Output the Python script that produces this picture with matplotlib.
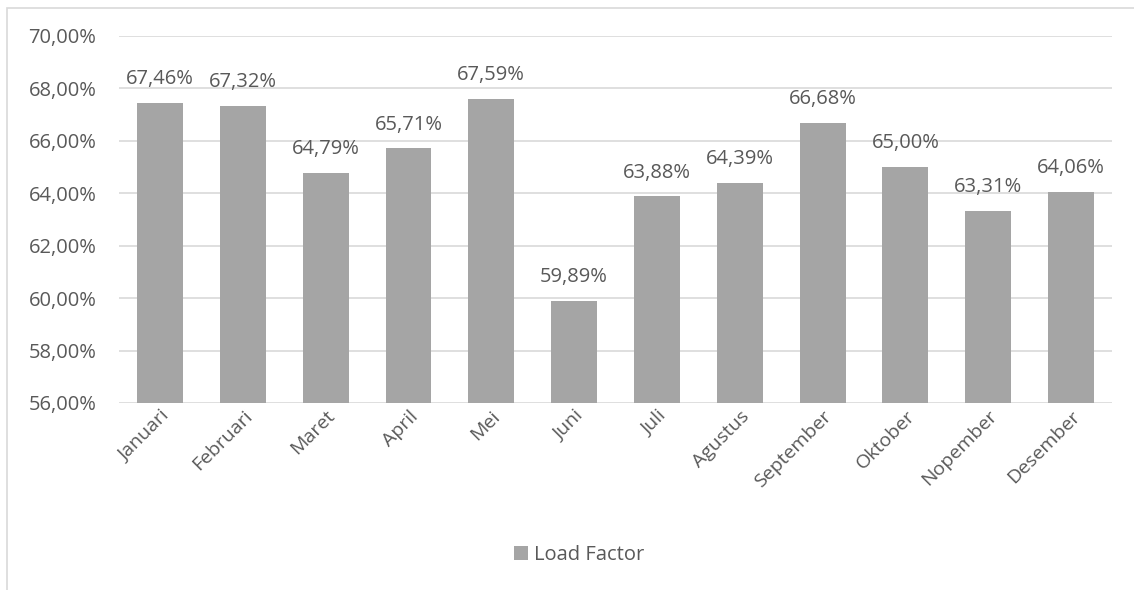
import matplotlib.pyplot as plt
from matplotlib.patches import Rectangle
from matplotlib.ticker import FuncFormatter

months = ["Januari", "Februari", "Maret", "April", "Mei", "Juni", "Juli",
          "Agustus", "September", "Oktober", "Nopember", "Desember"]
load_factor = [67.46, 67.32, 64.79, 65.71, 67.59, 59.89, 63.88,
               64.39, 66.68, 65.00, 63.31, 64.06]
series_name = "Load Factor"

txt = "#595959"
fs = 14.5
plt.rcParams['font.family'] = ['Open Sans', 'DejaVu Sans']

fig = plt.figure(figsize=(11.34, 5.9), dpi=100)
ax = fig.add_axes([0.1046, 0.317, 0.8764, 0.622])

x = range(len(months))
bars = ax.bar(x, load_factor, width=0.555, color="#a5a5a5", label=series_name, zorder=2)

for xi, v in zip(x, load_factor):
    ax.annotate(f"{v:.2f}%".replace(".", ","), (xi, v), xytext=(0, 10),
                textcoords="offset points", ha="center", va="bottom",
                fontsize=fs, color=txt)

ax.set_ylim(56, 70)
ax.set_xlim(-0.5, len(months) - 0.5)
ax.set_yticks(range(56, 71, 2))
ax.yaxis.set_major_formatter(FuncFormatter(lambda v, p: f"{v:.2f}%".replace(".", ",")))
ax.grid(axis="y", color="#d9d9d9", linewidth=1.2, zorder=0)
ax.set_xticks(list(x))
ax.set_xticklabels(months, rotation=45, ha="right", rotation_mode="anchor")
ax.tick_params(axis="both", length=0, colors=txt, labelsize=fs)
ax.tick_params(axis="y", pad=16)
ax.tick_params(axis="x", pad=3, labelsize=14)
for s in ax.spines.values():
    s.set_visible(False)

fig.legend(handles=[bars], labels=[series_name], loc="center", bbox_to_anchor=(0.511, 0.06),
           frameon=False, fontsize=fs, labelcolor=txt, handlelength=0.7,
           handleheight=0.7, handletextpad=0.3)

fig.patches.append(Rectangle((7 / 1134, -0.01), 1.0, 1 - 8 / 590 + 0.01,
                             transform=fig.transFigure, fill=False,
                             edgecolor="#d9d9d9", linewidth=1.2))

fig.savefig("out.png", dpi=100)
